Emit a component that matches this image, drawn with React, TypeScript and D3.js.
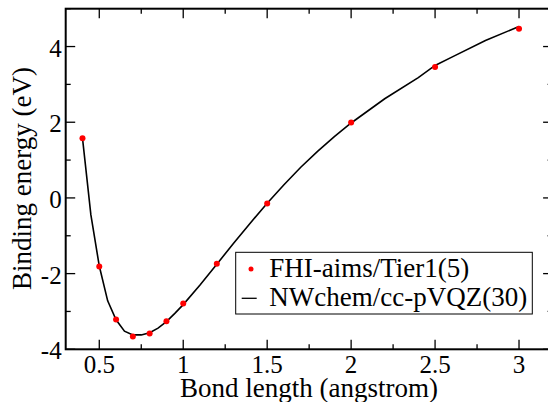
import React from "react";
import * as d3 from "d3";

const aimsX = [0.4, 0.5, 0.6, 0.7, 0.8, 0.9, 1.0, 1.2, 1.5, 2.0, 2.5, 3.0];
const aimsY = [1.58, -1.81, -3.21, -3.66, -3.58, -3.26, -2.79, -1.74, -0.15, 1.99, 3.46, 4.47];

const nwX = [0.4, 0.45, 0.5, 0.55, 0.6, 0.65, 0.7, 0.75, 0.8, 0.85, 0.9, 0.95, 1.0, 1.1, 1.2, 1.3, 1.4, 1.5, 1.6, 1.7, 1.8, 1.9, 2.0, 2.2, 2.4, 2.5, 2.6, 2.8, 3.0];
const nwY = [1.58, -0.45, -1.8, -2.72, -3.22, -3.52, -3.62, -3.62, -3.56, -3.44, -3.27, -3.05, -2.82, -2.3, -1.75, -1.2, -0.66, -0.14, 0.35, 0.81, 1.23, 1.62, 1.98, 2.62, 3.18, 3.5, 3.72, 4.16, 4.53];

const xMajor = [0.5, 1, 1.5, 2, 2.5, 3];
const xMinor = [0.75, 1.25, 1.75, 2.25, 2.75];
const yMajor = [-4, -2, 0, 2, 4];
const yMinor = [-3, -1, 1, 3, 5];

const legendLabels = ["FHI-aims/Tier1(5)", "NWchem/cc-pVQZ(30)"];
const xTitle = "Bond length (angstrom)";
const yTitle = "Binding energy (eV)";

export default function App() {
  const W = 548, H = 402;
  const left = 65.7, right = 552.6, top = 8.7, bottom = 349.3;
  const x = d3.scaleLinear().domain([0.3, 3.2]).range([left, right]);
  const y = d3.scaleLinear().domain([-4, 5]).range([bottom, top]);
  const line = d3.line<number>().x((_, i) => x(nwX[i])).y((d) => y(d));
  const font = "'Liberation Serif', 'Times New Roman', serif";
  const majL = 9.5, minL = 5;
  return (
    <svg width={W} height={H} style={{ position: "absolute", left: 0, top: 0, background: "#fff" }} fontFamily={font}>
      <rect x={0} y={0} width={W} height={H} fill="#fff" />
      {xMajor.map((v) => (
        <g key={"xm" + v}>
          <line x1={x(v)} x2={x(v)} y1={bottom} y2={bottom - majL} stroke="#000" strokeWidth={1.3} />
          <line x1={x(v)} x2={x(v)} y1={top} y2={top + majL} stroke="#000" strokeWidth={1.3} />
          <text x={x(v)} y={bottom + 24} fontSize={25} textAnchor="middle">{v}</text>
        </g>
      ))}
      {xMinor.map((v) => (
        <g key={"xn" + v}>
          <line x1={x(v)} x2={x(v)} y1={bottom} y2={bottom - minL} stroke="#000" strokeWidth={1.3} />
          <line x1={x(v)} x2={x(v)} y1={top} y2={top + minL} stroke="#000" strokeWidth={1.3} />
        </g>
      ))}
      {yMajor.map((v) => (
        <g key={"ym" + v}>
          <line x1={left} x2={left + majL} y1={y(v)} y2={y(v)} stroke="#000" strokeWidth={1.3} />
          <line x1={right} x2={right - majL} y1={y(v)} y2={y(v)} stroke="#000" strokeWidth={1.3} />
          <text x={left - 4} y={y(v) + 10} fontSize={25} textAnchor="end">{v}</text>
        </g>
      ))}
      {yMinor.map((v) => (
        <g key={"yn" + v}>
          <line x1={left} x2={left + minL} y1={y(v)} y2={y(v)} stroke="#000" strokeWidth={1.3} />
          <line x1={right} x2={right - minL} y1={y(v)} y2={y(v)} stroke="#000" strokeWidth={1.3} />
        </g>
      ))}
      <rect x={left} y={top} width={right - left} height={bottom - top} fill="none" stroke="#000" strokeWidth={2} />
      <path d={line(nwY) || ""} fill="none" stroke="#000" strokeWidth={1.6} />
      {aimsY.map((v, i) => (
        <circle key={"p" + i} cx={x(aimsX[i])} cy={y(v)} r={3} fill="#ff0000" />
      ))}
      <text x={309} y={396.5} fontSize={27} textAnchor="middle">{xTitle}</text>
      <text transform={`translate(31,178.5) rotate(-90)`} fontSize={27} textAnchor="middle">{yTitle}</text>
      <rect x={235.7} y={252.3} width={296.6} height={61.7} fill="#fff" stroke="#000" strokeWidth={1} />
      <circle cx={251} cy={269} r={2.5} fill="#ff0000" />
      <text x={269.3} y={276.7} fontSize={27}>{legendLabels[0]}</text>
      <line x1={241.7} x2={256.7} y1={298.3} y2={298.3} stroke="#000" strokeWidth={1.3} />
      <text x={269.3} y={305.5} fontSize={27}>{legendLabels[1]}</text>
    </svg>
  );
}
